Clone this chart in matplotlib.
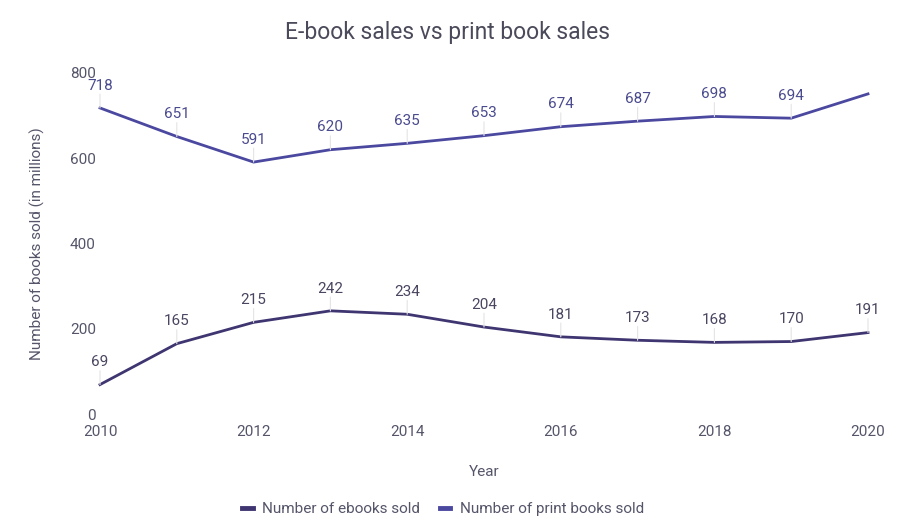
import matplotlib
matplotlib.use("Agg")
import matplotlib.pyplot as plt
from matplotlib.lines import Line2D

plt.rcParams['font.family'] = ['Roboto', 'DejaVu Sans']

years = [2010, 2011, 2012, 2013, 2014, 2015, 2016, 2017, 2018, 2019, 2020]
ebooks = [69, 165, 215, 242, 234, 204, 181, 173, 168, 170, 191]
print_books = [718, 651, 591, 620, 635, 653, 674, 687, 698, 694, 751]
print_label_shown = [True] * 10 + [False]
x_ticks = [2010, 2012, 2014, 2016, 2018, 2020]
y_ticks = [0, 200, 400, 600, 800]

ebook_color = '#3f3570'
print_color = '#4b48a0'
text_color = '#55556a'

fig = plt.figure(figsize=(9.04, 5.26), dpi=100)
ax = fig.add_axes([100/904, 1-414/526, 768/904, 341/526])

ax.plot(years, ebooks, color=ebook_color, lw=2, solid_joinstyle='miter', clip_on=False)
ax.plot(years, print_books, color=print_color, lw=2, solid_joinstyle='miter', clip_on=False)

def label_points(xs, ys, color, shown=None):
    for i, (x, y) in enumerate(zip(xs, ys)):
        if shown is not None and not shown[i]:
            continue
        ax.annotate('', xy=(x, y), xytext=(0, 10), textcoords='offset points',
                    arrowprops=dict(arrowstyle='-', color='#e4e4e4', lw=0.8,
                                    shrinkA=0, shrinkB=0))
        ax.annotate(str(y), xy=(x, y), xytext=(0, 11), textcoords='offset points',
                    ha='center', va='bottom', color=color, fontsize=11)

label_points(years, ebooks, '#4a4560')
label_points(years, print_books, '#4a4a8f', print_label_shown)

ax.set_xlim(2010, 2020)
ax.set_ylim(0, 800)
ax.set_xticks(x_ticks)
ax.set_xticklabels([str(t) for t in x_ticks])
ax.set_yticks(y_ticks)
ax.set_yticklabels([str(t) for t in y_ticks])
ax.tick_params(length=0, colors=text_color, labelsize=11)
ax.tick_params(axis='x', pad=8)
ax.tick_params(axis='y', pad=3)
for s in ax.spines.values():
    s.set_visible(False)

ax.set_xlabel('Year', color=text_color, fontsize=11, labelpad=19)
ax.set_ylabel('Number of books sold (in millions)', color=text_color, fontsize=11, labelpad=18)
fig.text(0.495, 1-32/526, 'E-book sales vs print book sales', ha='center', va='center',
         color='#4a4a5a', fontsize=16.5)

handles = [Line2D([0], [0], color=ebook_color, lw=3.5),
           Line2D([0], [0], color=print_color, lw=3.5)]
fig.legend(handles, ['Number of ebooks sold', 'Number of print books sold'],
           loc='center', bbox_to_anchor=(0.49, 1-509/526), ncol=2, frameon=False,
           handlelength=0.7, handletextpad=0.6, columnspacing=1.3,
           labelcolor=text_color, fontsize=11)

fig.savefig('out.png', dpi=100)
